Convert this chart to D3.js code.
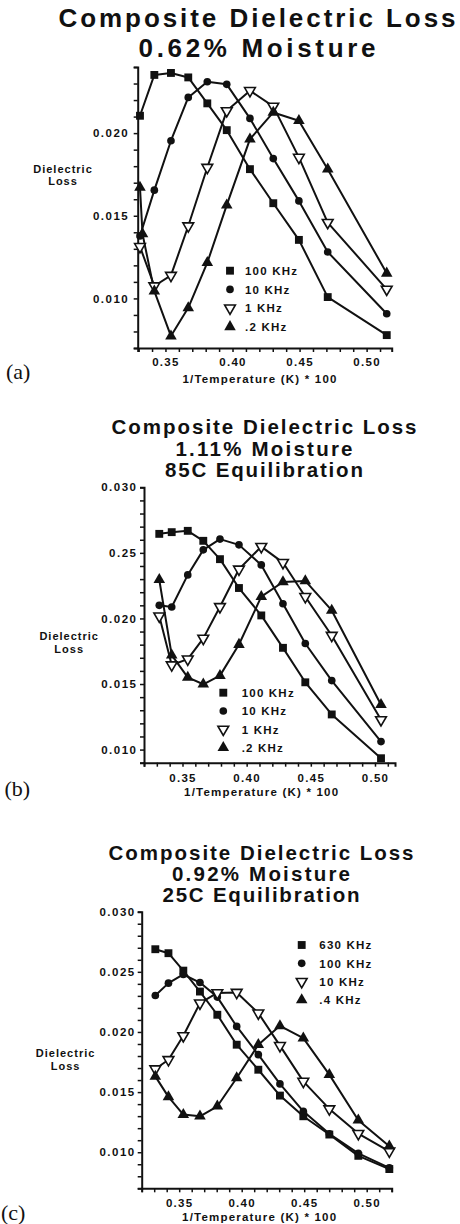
<!DOCTYPE html>
<html><head><meta charset="utf-8">
<script src="https://cdn.jsdelivr.net/npm/d3@7"></script>
<style>
html,body{margin:0;padding:0;background:#fff;}
svg{display:block;}
text{font-family:"Liberation Sans",Arial,Helvetica,sans-serif;font-weight:bold;fill:#111;}
text.tag{font-family:"Liberation Serif","Times New Roman",serif;font-weight:normal;}
</style></head><body>
<svg id="chart" width="460" height="1224"></svg>
<script>
// ---------------- DATA ----------------
// Panel (a): 0.62% Moisture
const titleA = ["Composite Dielectric Loss", "0.62% Moisture"];
const namesA = ["100 KHz", "10 KHz", "1 KHz", ".2 KHz"];
const xA   = [0.3310, 0.3417, 0.3541, 0.3670, 0.3812, 0.3957, 0.4130, 0.4304, 0.4495, 0.4710, 0.5150];
const xA02 = [0.3310, 0.3329, 0.3417, 0.3541, 0.3670, 0.3812, 0.3957, 0.4130, 0.4304, 0.4495, 0.4710, 0.5150];
const a100 = [0.02105, 0.02352, 0.02364, 0.02337, 0.02180, 0.02018, 0.01782, 0.01576, 0.01354, 0.01008, 0.00778];
const a10  = [0.01378, 0.01655, 0.01954, 0.02216, 0.02311, 0.02295, 0.02089, 0.01846, 0.01590, 0.01281, 0.00907];
const a1   = [0.01313, 0.01075, 0.01139, 0.01438, 0.01792, 0.02135, 0.02257, 0.02162, 0.01853, 0.01459, 0.01055];
const a02  = [0.01671, 0.01390, 0.01044, 0.00772, 0.00943, 0.01216, 0.01564, 0.01964, 0.02125, 0.02075, 0.01782, 0.01152];
const yTickValsA = [0.010, 0.015, 0.020];
const yTickLabelsA = ["0.010", "0.015", "0.020"];

// Panel (b): 1.11% Moisture, 85C Equilibration
const titleB = ["Composite Dielectric Loss", "1.11% Moisture", "85C Equilibration"];
const namesB = ["100 KHz", "10 KHz", "1 KHz", ".2 KHz"];
const xB   = [0.3319, 0.3416, 0.3541, 0.3662, 0.3792, 0.3940, 0.4114, 0.4283, 0.4457, 0.4663, 0.5047];
const b100 = [0.02645, 0.02658, 0.02668, 0.02592, 0.02452, 0.02232, 0.02023, 0.01776, 0.01513, 0.01268, 0.00934];
const b10  = [0.02100, 0.02087, 0.02332, 0.02523, 0.02605, 0.02561, 0.02408, 0.02112, 0.01809, 0.01526, 0.01061];
const b1   = [0.02018, 0.01645, 0.01690, 0.01848, 0.02089, 0.02375, 0.02548, 0.02426, 0.02166, 0.01870, 0.01227];
const b02  = [0.02295, 0.01720, 0.01550, 0.01498, 0.01564, 0.01801, 0.02166, 0.02278, 0.02286, 0.02061, 0.01342];
const yTickValsB = [0.010, 0.015, 0.020, 0.025, 0.030];
const yTickLabelsB = ["0.010", "0.015", "0.020", "0.25", "0.030"];

// Panel (c): 0.92% Moisture, 25C Equilibration
const titleC = ["Composite Dielectric Loss", "0.92% Moisture", "25C Equilibration"];
const namesC = ["630 KHz", "100 KHz", "10 KHz", ".4 KHz"];
const xC   = [0.3309, 0.3414, 0.3533, 0.3666, 0.3805, 0.3960, 0.4133, 0.4306, 0.4493, 0.4701, 0.4933, 0.5181];
const c630 = [0.02688, 0.02655, 0.02510, 0.02336, 0.02143, 0.01894, 0.01686, 0.01471, 0.01299, 0.01147, 0.00970, 0.00860];
const c100 = [0.02303, 0.02406, 0.02478, 0.02411, 0.02290, 0.02046, 0.01811, 0.01568, 0.01340, 0.01153, 0.00990, 0.00870];
const c10  = [0.01692, 0.01769, 0.01968, 0.02240, 0.02325, 0.02328, 0.02157, 0.01886, 0.01589, 0.01360, 0.01155, 0.01008];
const c04  = [0.01631, 0.01460, 0.01313, 0.01299, 0.01382, 0.01617, 0.01894, 0.02051, 0.01949, 0.01645, 0.01266, 0.01050];
const yTickValsC = [0.010, 0.015, 0.020, 0.025, 0.030];
const yTickLabelsC = ["0.010", "0.015", "0.020", "0.025", "0.030"];

// shared
const xTickVals = [0.35, 0.40, 0.45, 0.50];
const xTickLabels = ["0.35", "0.40", "0.45", "0.50"];
const yTitle = ["Dielectric", "Loss"];
const xTitle = "1/Temperature (K) * 100";
const tags = ["(a)", "(b)", "(c)"];

// ---------------- LAYOUT ----------------
const markerKinds = ["square", "circle", "tridown", "triup"];
const panels = [
  { title: titleA, tSize: 26, tCx: 257, tY: [27.3, 57], tW: [397, 237],
    xDomain: [0.3293, 0.5187], xRange: [137.7, 391.7], yDomain: [0.007, 0.024], yRange: [348, 67],
    yVals: yTickValsA, yLabels: yTickLabelsA, yPad: 4.5, xPad: 5.8,
    series: [[xA, a100], [xA, a10], [xA, a1], [xA02, a02]], names: namesA,
    legend: { x: 230, tx: 245, y: 270.7, dy: 18.7 },
    yt: { cx: 63, y: [172.7, 185.3] }, xt: { cx: 260, y: 382.5 }, tag: { x: 6, y: 379 } },
  { title: titleB, tSize: 20.5, tCx: 264, tY: [434, 455.8, 477.3], tW: [305, 177, 198],
    xDomain: [0.32, 0.5156], xRange: [144, 395], yDomain: [0.009, 0.030], yRange: [762.7, 487.3],
    yVals: yTickValsB, yLabels: yTickLabelsB, yPad: 2.5, xPad: 7.4,
    series: [[xB, b100], [xB, b10], [xB, b1], [xB, b02]], names: namesB,
    legend: { x: 223.3, tx: 241.7, y: 692.7, dy: 18.3 },
    yt: { cx: 69.2, y: [640, 652.5] }, xt: { cx: 261.7, y: 796 }, tag: { x: 4.5, y: 796 } },
  { title: titleC, tSize: 20.5, tCx: 261, tY: [859.8, 880.8, 901.7], tW: [305, 178, 197],
    xDomain: [0.32, 0.52], xRange: [141.7, 391.7], yDomain: [0.007, 0.030], yRange: [1188.3, 911.7],
    yVals: yTickValsC, yLabels: yTickLabelsC, yPad: 2, xPad: 6.4,
    series: [[xC, c630], [xC, c100], [xC, c10], [xC, c04]], names: namesC,
    legend: { x: 301.7, tx: 319.3, y: 945, dy: 18.3 },
    yt: { cx: 65.6, y: [1057.3, 1070] }, xt: { cx: 259.7, y: 1221 }, tag: { x: 1, y: 1219.5 } }
];

const svg = d3.select("#chart");
const INK = "#111";

function marker(sel, kind) {
  const sym = d3.symbol();
  if (kind === "square") sel.attr("d", sym.type(d3.symbolSquare).size(62)()).attr("fill", INK);
  else if (kind === "circle") sel.attr("d", sym.type(d3.symbolCircle).size(46)()).attr("fill", INK);
  else if (kind === "triup") sel.attr("d", sym.type(d3.symbolTriangle).size(58)()).attr("fill", INK);
  else sel.attr("d", sym.type(d3.symbolTriangle).size(50)()).attr("fill", "#fff")
          .attr("stroke", INK).attr("stroke-width", 1.6);
  return sel;
}

panels.forEach((p, pi) => {
  const g = svg.append("g");
  const x = d3.scaleLinear().domain(p.xDomain).range(p.xRange);
  const y = d3.scaleLinear().domain(p.yDomain).range(p.yRange);

  // titles
  p.title.forEach((t, i) => {
    g.append("text").attr("x", p.tCx).attr("y", p.tY[i]).attr("text-anchor", "middle")
      .attr("font-size", p.tSize).attr("textLength", p.tW[i]).attr("lengthAdjust", "spacing").text(t);
  });

  // y axis
  const y0 = Math.round(p.yDomain[0] * 1000), y1 = Math.round(p.yDomain[1] * 1000);
  const yMinor = d3.range(y0, y1 + 1).map(v => v / 1000);
  const yAxis = d3.axisLeft(y).tickValues(yMinor).tickSize(4).tickSizeOuter(4).tickPadding(p.yPad)
    .tickFormat(d => { const i = p.yVals.findIndex(v => Math.abs(v - d) < 1e-9); return i >= 0 ? p.yLabels[i] : ""; });
  const ya = g.append("g").attr("transform", `translate(${p.xRange[0]},0)`).call(yAxis);
  ya.select(".domain").attr("stroke", INK).attr("stroke-width", 2);
  ya.selectAll(".tick line").attr("stroke", INK).attr("stroke-width", 1.5);
  ya.selectAll(".tick text").attr("font-size", 11.5).attr("letter-spacing", "1.5px")
    .attr("fill", INK).style("font-family", '"Liberation Sans",Arial,sans-serif').style("font-weight", "bold");

  // x axis
  const xs = Math.ceil(p.xDomain[0] * 100 - 1e-6), xe = Math.floor(p.xDomain[1] * 100 + 1e-6);
  const xMinor = d3.range(xs, xe + 1).map(v => v / 100);
  const xAxis = d3.axisBottom(x).tickValues(xMinor).tickSize(4).tickSizeOuter(4).tickPadding(p.xPad)
    .tickFormat(d => { const i = xTickVals.findIndex(v => Math.abs(v - d) < 1e-9); return i >= 0 ? xTickLabels[i] : ""; });
  const xa = g.append("g").attr("transform", `translate(0,${p.yRange[0]})`).call(xAxis);
  xa.select(".domain").attr("stroke", INK).attr("stroke-width", 2);
  xa.selectAll(".tick line").attr("stroke", INK).attr("stroke-width", 1.5);
  xa.selectAll(".tick text").attr("font-size", 11.5).attr("letter-spacing", "1.3px")
    .attr("fill", INK).style("font-family", '"Liberation Sans",Arial,sans-serif').style("font-weight", "bold");

  // axis titles
  yTitle.forEach((t, i) => {
    g.append("text").attr("x", p.yt.cx).attr("y", p.yt.y[i]).attr("text-anchor", "middle")
      .attr("font-size", 11).attr("letter-spacing", "1px").text(t);
  });
  g.append("text").attr("x", p.xt.cx).attr("y", p.xt.y).attr("text-anchor", "middle")
    .attr("font-size", 11.5).attr("letter-spacing", "1.2px").text(xTitle);

  // panel tag
  g.append("text").attr("class", "tag").attr("x", p.tag.x).attr("y", p.tag.y)
    .attr("font-size", 22).text(tags[pi]);

  // series lines
  const line = d3.line().x(d => x(d[0])).y(d => y(d[1]));
  p.series.forEach(([xs_, ys_]) => {
    const pts = ys_.map((v, i) => [xs_[i], v]);
    g.append("path").datum(pts).attr("d", line).attr("fill", "none")
      .attr("stroke", INK).attr("stroke-width", 2).attr("stroke-linejoin", "round");
  });
  // markers
  p.series.forEach(([xs_, ys_], si) => {
    const pts = ys_.map((v, i) => [xs_[i], v]);
    g.append("g").selectAll("path").data(pts).join("path")
      .attr("transform", d => `translate(${x(d[0])},${y(d[1])})` + (markerKinds[si] === "tridown" ? " rotate(180)" : ""))
      .each(function () { marker(d3.select(this), markerKinds[si]); });
  });

  // legend
  p.names.forEach((n, i) => {
    const ly = p.legend.y + i * p.legend.dy;
    const m = g.append("path").attr("transform", `translate(${p.legend.x},${ly})` + (markerKinds[i] === "tridown" ? " rotate(180)" : ""));
    marker(m, markerKinds[i]);
    g.append("text").attr("x", p.legend.tx).attr("y", ly + 4.2).attr("font-size", 11.5)
      .attr("letter-spacing", "1.2px").text(n);
  });
});
</script>
</body></html>
